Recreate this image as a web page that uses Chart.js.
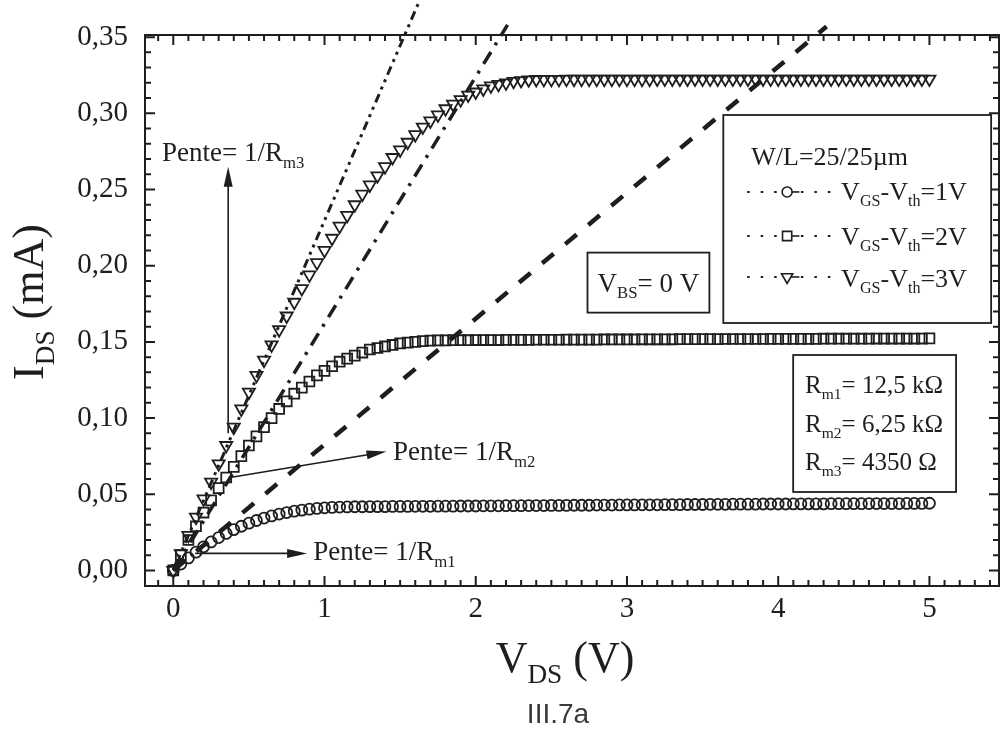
<!DOCTYPE html>
<html>
<head>
<meta charset="utf-8">
<title>III.7a - IDS(VDS)</title>
<script src="https://cdn.jsdelivr.net/npm/chart.js@4.4.0/dist/chart.umd.min.js"></script>
<style>
  html, body { margin: 0; padding: 0; background: #fff; }
  #wrap { width: 1000px; height: 732px; }
</style>
</head>
<body>
<div id="wrap"><canvas id="ivChart" width="1000" height="732"></canvas></div>
<script>
// Drain voltage sweep (V)
const vds = [
  0.00, 0.05, 0.10, 0.15, 0.20, 0.25, 0.30, 0.35, 0.40, 0.45,
  0.50, 0.55, 0.60, 0.65, 0.70, 0.75, 0.80, 0.85, 0.90, 0.95,
  1.00, 1.05, 1.10, 1.15, 1.20, 1.25, 1.30, 1.35, 1.40, 1.45,
  1.50, 1.55, 1.60, 1.65, 1.70, 1.75, 1.80, 1.85, 1.90, 1.95,
  2.00, 2.05, 2.10, 2.15, 2.20, 2.25, 2.30, 2.35, 2.40, 2.45,
  2.50, 2.55, 2.60, 2.65, 2.70, 2.75, 2.80, 2.85, 2.90, 2.95,
  3.00, 3.05, 3.10, 3.15, 3.20, 3.25, 3.30, 3.35, 3.40, 3.45,
  3.50, 3.55, 3.60, 3.65, 3.70, 3.75, 3.80, 3.85, 3.90, 3.95,
  4.00, 4.05, 4.10, 4.15, 4.20, 4.25, 4.30, 4.35, 4.40, 4.45,
  4.50, 4.55, 4.60, 4.65, 4.70, 4.75, 4.80, 4.85, 4.90, 4.95,
  5.00
];

// IDS (mA) for VGS-Vth = 1 V (circles)
const idsVov1 = [
  0.0000, 0.0042, 0.0082, 0.0120, 0.0155, 0.0187, 0.0216, 0.0243, 0.0268, 0.0290,
  0.0310, 0.0328, 0.0344, 0.0358, 0.0370, 0.0380, 0.0389, 0.0396, 0.0402, 0.0407,
  0.0411, 0.0414, 0.0416, 0.0417, 0.0418, 0.0418, 0.0419, 0.0419, 0.0419, 0.0420,
  0.0420, 0.0420, 0.0421, 0.0421, 0.0421, 0.0422, 0.0422, 0.0422, 0.0423, 0.0423,
  0.0423, 0.0424, 0.0424, 0.0424, 0.0425, 0.0425, 0.0425, 0.0426, 0.0426, 0.0426,
  0.0427, 0.0427, 0.0427, 0.0428, 0.0428, 0.0428, 0.0429, 0.0429, 0.0429, 0.0430,
  0.0430, 0.0430, 0.0431, 0.0431, 0.0431, 0.0432, 0.0432, 0.0432, 0.0433, 0.0433,
  0.0433, 0.0434, 0.0434, 0.0434, 0.0435, 0.0435, 0.0435, 0.0435, 0.0436, 0.0436,
  0.0436, 0.0436, 0.0437, 0.0437, 0.0437, 0.0437, 0.0437, 0.0438, 0.0438, 0.0438,
  0.0438, 0.0438, 0.0439, 0.0439, 0.0439, 0.0439, 0.0439, 0.0440, 0.0440, 0.0440,
  0.0441
];

// IDS (mA) for VGS-Vth = 2 V (squares)
const idsVov2 = [
  0.000, 0.010, 0.020, 0.029, 0.038, 0.046, 0.054, 0.061, 0.068, 0.075,
  0.082, 0.088, 0.094, 0.100, 0.106, 0.111, 0.116, 0.120, 0.124, 0.128,
  0.131, 0.134, 0.137, 0.139, 0.141, 0.143, 0.145, 0.146, 0.147, 0.148,
  0.1490, 0.1495, 0.1500, 0.1505, 0.1508, 0.1510, 0.1510, 0.1511, 0.1511, 0.1511,
  0.1512, 0.1512, 0.1512, 0.1512, 0.1513, 0.1513, 0.1513, 0.1513, 0.1514, 0.1514,
  0.1514, 0.1514, 0.1515, 0.1515, 0.1515, 0.1515, 0.1515, 0.1516, 0.1516, 0.1516,
  0.1516, 0.1516, 0.1517, 0.1517, 0.1517, 0.1517, 0.1517, 0.1518, 0.1518, 0.1518,
  0.1518, 0.1518, 0.1518, 0.1519, 0.1519, 0.1519, 0.1519, 0.1519, 0.1519, 0.1520,
  0.1520, 0.1520, 0.1520, 0.1520, 0.1520, 0.1520, 0.1521, 0.1521, 0.1521, 0.1521,
  0.1521, 0.1521, 0.1521, 0.1522, 0.1522, 0.1522, 0.1522, 0.1522, 0.1522, 0.1522,
  0.1523
];

// IDS (mA) for VGS-Vth = 3 V (triangles)
const idsVov3 = [
  0.000, 0.011, 0.023, 0.035, 0.047, 0.058, 0.070, 0.082, 0.094, 0.106,
  0.117, 0.128, 0.138, 0.148, 0.158, 0.167, 0.176, 0.185, 0.194, 0.202,
  0.210, 0.218, 0.226, 0.233, 0.240, 0.247, 0.253, 0.259, 0.265, 0.271,
  0.276, 0.281, 0.286, 0.291, 0.295, 0.299, 0.303, 0.306, 0.309, 0.312,
  0.314, 0.316, 0.318, 0.319, 0.320, 0.321, 0.3215, 0.3220, 0.3222, 0.3223,
  0.3223, 0.3223, 0.3224, 0.3224, 0.3224, 0.3224, 0.3224, 0.3224, 0.3224, 0.3224,
  0.3224, 0.3224, 0.3224, 0.3224, 0.3225, 0.3225, 0.3225, 0.3225, 0.3225, 0.3225,
  0.3225, 0.3225, 0.3225, 0.3225, 0.3225, 0.3225, 0.3225, 0.3225, 0.3225, 0.3225,
  0.3225, 0.3225, 0.3225, 0.3225, 0.3225, 0.3225, 0.3225, 0.3225, 0.3225, 0.3225,
  0.3225, 0.3225, 0.3225, 0.3225, 0.3225, 0.3225, 0.3225, 0.3225, 0.3225, 0.3225,
  0.3225
];

// tangents at the origin, slope = 1/Rm (drawn past the top axis)
const tangentM1X = [0, 4.32];
const tangentM1Y = [0, 0.357];
const tangentM2X = [0, 2.21];
const tangentM2Y = [0, 0.358];
const tangentM3X = [0, 1.62];
const tangentM3Y = [0, 0.372];

const xTicks = [0, 1, 2, 3, 4, 5];
const xTickLabels = ['0', '1', '2', '3', '4', '5'];
const yTicks = [0, 0.05, 0.10, 0.15, 0.20, 0.25, 0.30, 0.35];
const yTickLabels = ['0,00', '0,05', '0,10', '0,15', '0,20', '0,25', '0,30', '0,35'];

const seriesLabels = ['VGS-Vth=1V', 'VGS-Vth=2V', 'VGS-Vth=3V'];

const INK = '#1e1e1e';
const SERIF = '"Liberation Serif", "Times New Roman", serif';

function pts(xs, ys) {
  return xs.map((v, k) => ({ x: v, y: ys[k] }));
}

// text with subscripts: parts = [[text, isSub], ...]
function rich(ctx, parts, x, y, size, align) {
  const sub = size * 0.62;
  let w = 0;
  parts.forEach(p => {
    ctx.font = (p[1] ? sub : size) + 'px ' + SERIF;
    w += ctx.measureText(p[0]).width;
  });
  let cx = align === 'center' ? x - w / 2 : align === 'right' ? x - w : x;
  ctx.textAlign = 'left';
  ctx.textBaseline = 'alphabetic';
  parts.forEach(p => {
    ctx.font = (p[1] ? sub : size) + 'px ' + SERIF;
    ctx.fillText(p[0], cx, p[1] ? y + size * 0.24 : y);
    cx += ctx.measureText(p[0]).width;
  });
}

function arrow(ctx, x1, y1, x2, y2) {
  const a = Math.atan2(y2 - y1, x2 - x1);
  const c = Math.cos(a), s = Math.sin(a);
  const head = 20, half = 4.5;
  ctx.beginPath();
  ctx.moveTo(x1, y1);
  ctx.lineTo(x2 - c * head * 0.8, y2 - s * head * 0.8);
  ctx.stroke();
  ctx.beginPath();
  ctx.moveTo(x2, y2);
  ctx.lineTo(x2 - c * head - s * half, y2 - s * head + c * half);
  ctx.lineTo(x2 - c * head + s * half, y2 - s * head - c * half);
  ctx.closePath();
  ctx.fill();
}

const markerStyles = [
  { pointStyle: 'circle', radius: 5.5, rotation: 0 },
  { pointStyle: 'rect', radius: 7, rotation: 0 },
  { pointStyle: 'triangle', radius: 7, rotation: 180 }
];

const decorPlugin = {
  id: 'decor',
  afterDraw(chart) {
    const { ctx, chartArea: a, scales: { x, y } } = chart;
    const X = v => x.getPixelForValue(v);
    const Y = v => y.getPixelForValue(v);
    ctx.save();
    ctx.strokeStyle = INK;
    ctx.fillStyle = INK;

    // frame + inward ticks on all four sides
    ctx.lineWidth = 2;
    ctx.strokeRect(a.left, a.top, a.width, a.height);
    ctx.beginPath();
    for (let i = -1; i <= 54; i++) {
      const px = X(i / 10);
      if (px <= a.left + 1 || px >= a.right - 1) continue;
      const len = i % 10 === 0 ? 10 : 6;
      ctx.moveTo(px, a.bottom); ctx.lineTo(px, a.bottom - len);
      ctx.moveTo(px, a.top); ctx.lineTo(px, a.top + len);
    }
    for (let i = 0; i <= 35; i++) {
      const py = Y(i / 100);
      const len = i % 5 === 0 ? 10 : 6;
      ctx.moveTo(a.left, py); ctx.lineTo(a.left + len, py);
      ctx.moveTo(a.right, py); ctx.lineTo(a.right - len, py);
    }
    ctx.stroke();

    // axis titles
    rich(ctx, [['V', 0], ['DS', 1], [' (V)', 0]], 565, 672, 44, 'center');
    ctx.save();
    ctx.translate(43, 302);
    ctx.rotate(-Math.PI / 2);
    rich(ctx, [['I', 0], ['DS', 1], [' (mA)', 0]], 0, 0, 44, 'center');
    ctx.restore();
    ctx.font = '28px "Liberation Sans", Arial, sans-serif';
    ctx.fillStyle = '#3a3a3a';
    ctx.textAlign = 'center';
    ctx.fillText('III.7a', 558, 723);
    ctx.fillStyle = INK;

    // slope arrows and labels
    ctx.lineWidth = 1.6;
    arrow(ctx, X(0.363), Y(0.090), X(0.363), Y(0.265));
    arrow(ctx, X(0.375), Y(0.061), X(1.41), Y(0.078));
    arrow(ctx, X(0.145), Y(0.0112), X(0.885), Y(0.0112));
    rich(ctx, [['Pente= 1/R', 0], ['m3', 1]], X(-0.074), Y(0.2686), 27, 'left');
    rich(ctx, [['Pente= 1/R', 0], ['m2', 1]], X(1.453), Y(0.0722), 27, 'left');
    rich(ctx, [['Pente= 1/R', 0], ['m1', 1]], X(0.925), Y(0.0066), 27, 'left');

    // VBS box
    ctx.lineWidth = 1.8;
    ctx.fillStyle = '#fff';
    ctx.fillRect(X(2.739), Y(0.2086), X(3.545) - X(2.739), Y(0.1692) - Y(0.2086));
    ctx.strokeRect(X(2.739), Y(0.2086), X(3.545) - X(2.739), Y(0.1692) - Y(0.2086));
    ctx.fillStyle = INK;
    rich(ctx, [['V', 0], ['BS', 1], ['= 0 V', 0]], X(2.805), Y(0.1830), 27, 'left');

    // legend box
    ctx.fillStyle = '#fff';
    ctx.fillRect(X(3.637), Y(0.2989), X(5.408) - X(3.637), Y(0.1624) - Y(0.2989));
    ctx.strokeRect(X(3.637), Y(0.2989), X(5.408) - X(3.637), Y(0.1624) - Y(0.2989));
    ctx.fillStyle = INK;
    rich(ctx, [['W/L=25/25\u00b5m', 0]], X(3.822), Y(0.2661), 26, 'left');
    const rowBase = [0.2431, 0.2136, 0.1860];
    const rowMark = [0.2484, 0.2195, 0.1926];
    rowBase.forEach((b, k) => {
      const my = Y(rowMark[k]);
      ctx.save();
      ctx.lineWidth = 2;
      ctx.setLineDash([2.5, 11]);
      ctx.beginPath();
      ctx.moveTo(X(3.795), my); ctx.lineTo(X(4.0), my);
      ctx.moveTo(X(4.15), my); ctx.lineTo(X(4.37), my);
      ctx.stroke();
      ctx.setLineDash([]);
      ctx.lineWidth = 1.6;
      ctx.beginPath();
      ctx.moveTo(X(4.08), my); ctx.lineTo(X(4.14), my);
      ctx.stroke();
      ctx.fillStyle = '#fff';
      Chart.helpers.drawPoint(ctx, {
        pointStyle: markerStyles[k].pointStyle,
        radius: markerStyles[k].radius - 0.5,
        rotation: markerStyles[k].rotation,
        borderWidth: 1.6
      }, X(4.059), my);
      ctx.restore();
      const n = seriesLabels[k].slice(-2, -1);
      rich(ctx, [['V', 0], ['GS', 1], ['-V', 0], ['th', 1], ['=' + n + 'V', 0]], X(4.416), Y(b), 26, 'left');
    });

    // Rm values box
    ctx.lineWidth = 1.8;
    ctx.strokeRect(X(4.099), Y(0.1414), X(5.176) - X(4.099), Y(0.0515) - Y(0.1414));
    rich(ctx, [['R', 0], ['m1', 1], ['= 12,5 k\u03a9', 0]], X(4.178), Y(0.1166), 25, 'left');
    rich(ctx, [['R', 0], ['m2', 1], ['= 6,25 k\u03a9', 0]], X(4.178), Y(0.0910), 25, 'left');
    rich(ctx, [['R', 0], ['m3', 1], ['= 4350 \u03a9', 0]], X(4.178), Y(0.0660), 25, 'left');
    ctx.restore();
  }
};

const pointSet = (label, ys, style) => ({
  label: label,
  data: pts(vds, ys),
  showLine: false,
  pointStyle: style.pointStyle,
  pointRotation: style.rotation,
  pointRadius: style.radius,
  pointBorderWidth: 1.8,
  pointBorderColor: INK,
  pointBackgroundColor: 'rgba(0,0,0,0)'
});

const lineSet = (label, xs, ys, width, dash) => ({
  label: label,
  data: pts(xs, ys),
  showLine: true,
  pointRadius: 0,
  borderColor: INK,
  borderWidth: width,
  borderDash: dash,
  clip: false
});

const noPad = s => { s.paddingLeft = 0; s.paddingRight = 0; s.paddingTop = 0; s.paddingBottom = 0; };

new Chart(document.getElementById('ivChart'), {
  type: 'scatter',
  data: {
    datasets: [
      lineSet('1/Rm1', tangentM1X, tangentM1Y, 4.5, [15, 15]),
      lineSet('1/Rm2', tangentM2X, tangentM2Y, 3.5, [14, 8, 3, 8]),
      lineSet('1/Rm3', tangentM3X, tangentM3Y, 3, [9, 5, 3, 5, 3, 5]),
      pointSet(seriesLabels[0], idsVov1, markerStyles[0]),
      pointSet(seriesLabels[1], idsVov2, markerStyles[1]),
      pointSet(seriesLabels[2], idsVov3, markerStyles[2])
    ]
  },
  options: {
    responsive: false,
    animation: false,
    devicePixelRatio: 1,
    events: [],
    layout: { autoPadding: false, padding: { left: 0, right: 1, top: 35, bottom: 0 } },
    plugins: {
      legend: { display: false },
      tooltip: { enabled: false }
    },
    scales: {
      x: {
        type: 'linear',
        min: -0.187,
        max: 5.46,
        afterBuildTicks: s => { s.ticks = xTicks.map(v => ({ value: v })); },
        afterFit: s => { s.height = 146; noPad(s); },
        grid: { display: false, drawTicks: false },
        border: { display: false },
        ticks: {
          padding: 6,
          color: INK,
          font: { family: SERIF, size: 29 },
          maxRotation: 0,
          callback: (v, i) => xTickLabels[i]
        }
      },
      y: {
        type: 'linear',
        min: -0.0102,
        max: 0.3514,
        afterBuildTicks: s => { s.ticks = yTicks.map(v => ({ value: v })); },
        afterFit: s => { s.width = 145; noPad(s); },
        grid: { display: false, drawTicks: false },
        border: { display: false },
        ticks: {
          padding: 17,
          color: INK,
          font: { family: SERIF, size: 29 },
          callback: (v, i) => yTickLabels[i]
        }
      }
    }
  },
  plugins: [decorPlugin]
});
</script>
</body>
</html>
